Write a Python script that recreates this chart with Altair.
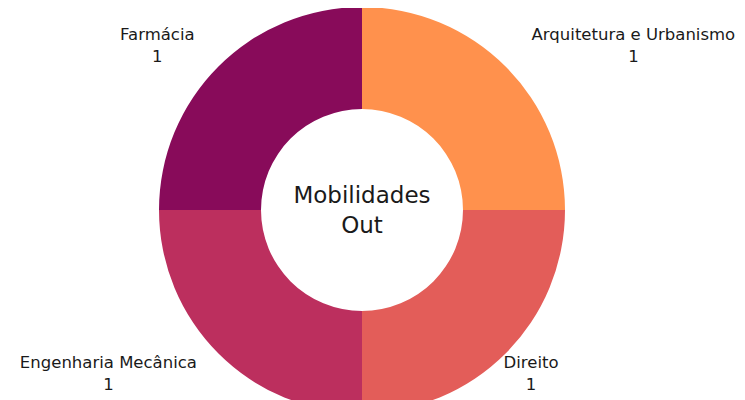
import altair as alt
import pandas as pd

names = ["Arquitetura e Urbanismo", "Direito", "Engenharia Mecânica", "Farmácia"]
values = [1, 1, 1, 1]
colors = ["#FF914D", "#E35D59", "#BC2F5E", "#880B5A"]
center_lines = ["Mobilidades", "Out"]

df = pd.DataFrame({"name": names, "value": values, "idx": list(range(len(names)))})
df["label"] = df["name"] + "\n" + df["value"].astype(str)

CX, CY = 354, 202
FONT = "DejaVu Sans"
FS = 16.5
HALF_CHAR = 4.45   # approx half of an average glyph width at FS

base = alt.Chart(df).transform_window(
    cum="sum(value)", sort=[alt.SortField("idx")]
).transform_joinaggregate(
    total="sum(value)"
).transform_calculate(
    start="(datum.cum - datum.value) / datum.total",
    end="datum.cum / datum.total",
    mid="(datum.cum - datum.value / 2) / datum.total",
)

theta_scale = alt.Scale(domain=[0, 1])

arcs = base.mark_arc(outerRadius=203, innerRadius=101, stroke=None).encode(
    theta=alt.Theta("start:Q", stack=None, scale=theta_scale),
    theta2="end:Q",
    color=alt.Color("name:N", scale=alt.Scale(domain=names, range=colors), legend=None),
    x=alt.value(CX),
    y=alt.value(CY),
)

def label_layer(sel, by_width):
    w = f"length(datum.name) * {HALF_CHAR}" if by_width else "0"
    return base.transform_filter(
        alt.FieldOneOfPredicate(field="name", oneOf=sel)
    ).transform_calculate(
        off=f"(sin(2 * PI * datum.mid) >= 0 ? 1 : -1) * (5 + {w})"
    ).mark_text(
        radius=232, align="center", baseline="middle", lineBreak="\n", dy=-11,
        fontSize=FS, lineHeight=22, font=FONT, color="#1a1a1a"
    ).encode(
        theta=alt.Theta("mid:Q", stack=None, scale=theta_scale),
        xOffset=alt.XOffset("off:Q", scale=None),
        text="label:N", x=alt.value(CX), y=alt.value(CY),
    )

lab_w = label_layer(["Farmácia", "Engenharia Mecânica", "Arquitetura e Urbanismo"], True)
lab_c = label_layer(["Direito"], False)

center_df = pd.DataFrame({"t": ["\n".join(center_lines)]})
center = alt.Chart(center_df).mark_text(
    lineBreak="\n", fontSize=23, lineHeight=30, font=FONT, color="#1a1a1a",
    align="center", baseline="middle"
).encode(text="t:N", x=alt.value(CX), y=alt.value(CY - 14))

chart = alt.layer(arcs, lab_w, lab_c, center).properties(
    width=729, height=400, padding=0, autosize=alt.AutoSizeParams(type="none")
).configure_view(stroke=None)

chart.save("out.html", embed_options={"renderer": "svg", "actions": False})
